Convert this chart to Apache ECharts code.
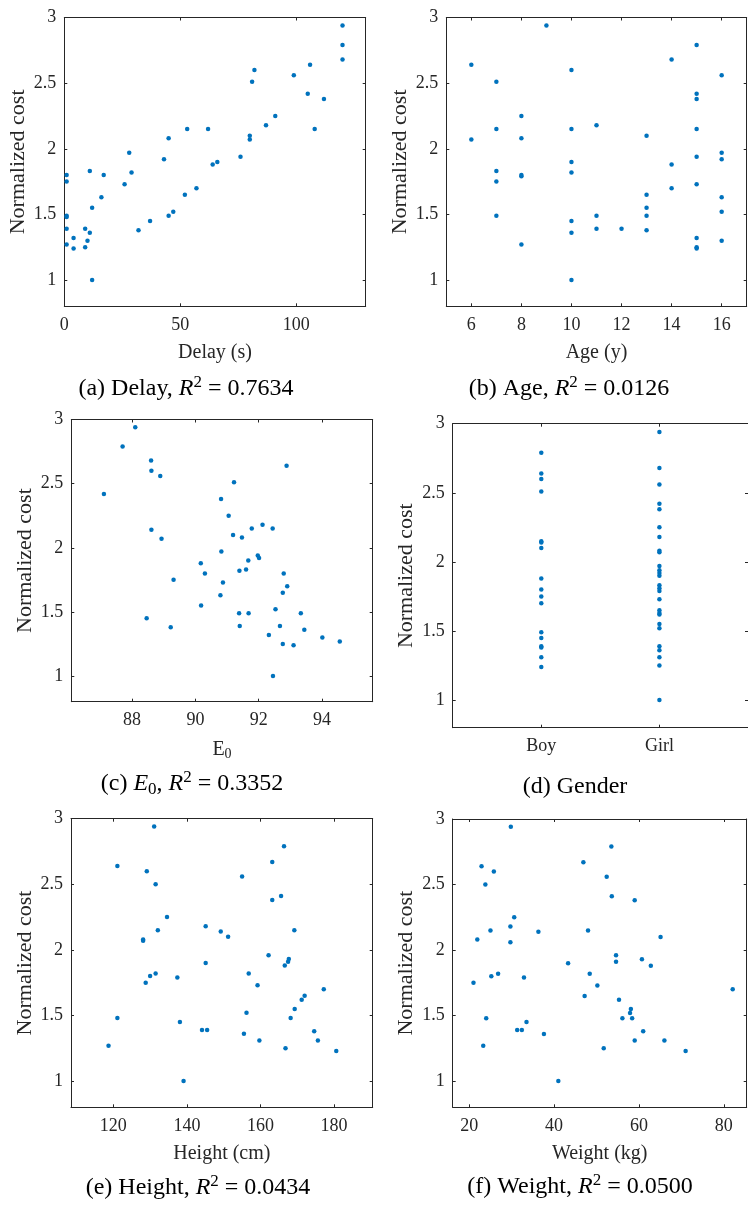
<!DOCTYPE html>
<html><head><meta charset="utf-8">
<script src="https://cdn.jsdelivr.net/npm/echarts@6/dist/echarts.min.js"></script>
<style>html,body{margin:0;padding:0;background:#fff}#c{width:748px;height:1205px}</style>
</head><body><div id="c"></div>
<script>
// ---- tick labels ----
const costTicks = [1, 1.5, 2, 2.5, 3];
const delayTicks = [0, 50, 100];
const ageTicks = [6, 8, 10, 12, 14, 16];
const e0Ticks = [88, 90, 92, 94];
const genderCategories = ['Boy', 'Girl'];
const heightTicks = [120, 140, 160, 180];
const weightTicks = [20, 40, 60, 80];

// ---- series values: [x, normalized cost] ----
const delayData = [[120,2.94],[120,2.79],[120,2.68],[82,2.60],[81,2.51],[99,2.56],[106,2.64],[105,2.42],[112,2.38],[91,2.25],[87,2.18],[108,2.15],[53,2.15],[62,2.15],[45,2.08],[80,2.10],[80,2.07],[28,1.97],[43,1.92],[76,1.94],[66,1.90],[64,1.88],[1,1.80],[1,1.75],[11,1.83],[17,1.80],[29,1.82],[26,1.73],[57,1.70],[52,1.65],[16,1.63],[12,1.55],[47,1.52],[45,1.49],[1,1.49],[1,1.48],[37,1.45],[32,1.38],[1,1.39],[9,1.39],[11,1.36],[4,1.32],[10,1.30],[1,1.27],[4,1.24],[9,1.25],[12,1.00]];
const ageData = [[9,2.94],[6,2.64],[6,2.07],[7,2.51],[7,2.15],[7,1.83],[7,1.75],[7,1.49],[8,2.25],[8,2.08],[8,1.80],[8,1.79],[8,1.27],[10,2.60],[10,2.15],[10,1.90],[10,1.82],[10,1.45],[10,1.36],[10,1.00],[11,2.18],[11,1.49],[11,1.39],[12,1.39],[13,2.10],[13,1.65],[13,1.55],[13,1.49],[13,1.38],[14,2.68],[14,1.88],[14,1.70],[15,2.79],[15,2.42],[15,2.38],[15,2.15],[15,1.94],[15,1.73],[15,1.32],[15,1.25],[15,1.24],[16,2.56],[16,1.97],[16,1.92],[16,1.63],[16,1.52],[16,1.30]];
const e0Data = [[88.10,2.94],[87.70,2.79],[88.60,2.68],[92.88,2.64],[88.61,2.60],[88.89,2.56],[91.22,2.51],[87.11,2.42],[90.81,2.38],[91.05,2.25],[91.78,2.15],[92.12,2.18],[92.44,2.15],[88.61,2.14],[91.19,2.10],[91.47,2.08],[88.93,2.07],[90.82,1.97],[91.97,1.94],[92.01,1.92],[91.67,1.90],[90.17,1.88],[92.79,1.80],[90.30,1.80],[91.39,1.82],[91.60,1.83],[89.31,1.75],[90.87,1.73],[92.90,1.70],[92.76,1.65],[90.79,1.63],[90.18,1.55],[92.53,1.52],[91.38,1.49],[91.68,1.49],[93.33,1.49],[88.46,1.45],[92.67,1.39],[91.40,1.39],[89.22,1.38],[93.44,1.36],[92.32,1.32],[94.01,1.30],[92.76,1.25],[94.56,1.27],[93.10,1.24],[92.45,1.00]];
const boyCost = [2.79,2.64,2.60,2.51,2.15,2.14,2.10,1.88,1.80,1.75,1.70,1.49,1.45,1.39,1.38,1.31,1.24];
const girlCost = [2.94,2.68,2.56,2.42,2.38,2.25,2.18,2.08,2.07,1.97,1.94,1.92,1.90,1.83,1.81,1.79,1.73,1.65,1.63,1.62,1.55,1.52,1.39,1.36,1.31,1.25,1.00];
const heightData = [[131.1,2.94],[166.4,2.79],[163.2,2.67],[121.1,2.64],[129.1,2.60],[155.0,2.56],[131.5,2.50],[165.6,2.41],[163.2,2.38],[134.6,2.25],[145.1,2.18],[132.1,2.15],[149.2,2.14],[169.2,2.15],[151.2,2.10],[128.1,2.08],[128.1,2.07],[162.2,1.96],[167.7,1.93],[167.5,1.91],[145.1,1.90],[166.6,1.88],[131.5,1.82],[130.0,1.80],[137.4,1.79],[156.8,1.82],[128.8,1.75],[159.2,1.73],[177.2,1.70],[172.0,1.65],[171.2,1.62],[169.3,1.55],[156.2,1.52],[168.2,1.48],[121.1,1.48],[138.1,1.45],[144.1,1.39],[145.5,1.39],[155.5,1.36],[174.6,1.38],[159.7,1.31],[175.6,1.31],[118.7,1.27],[166.8,1.25],[180.6,1.23],[139.1,1.00]];
const weightData = [[29.8,2.94],[53.5,2.79],[46.9,2.67],[22.9,2.64],[25.8,2.60],[23.8,2.50],[52.4,2.56],[53.6,2.41],[59.0,2.38],[30.6,2.25],[29.7,2.18],[25.0,2.15],[36.3,2.14],[48.0,2.15],[65.1,2.10],[21.9,2.08],[29.7,2.06],[54.6,1.96],[54.6,1.91],[60.7,1.93],[62.8,1.88],[43.3,1.90],[26.8,1.82],[25.2,1.80],[32.9,1.79],[48.4,1.82],[21.0,1.75],[50.2,1.73],[82.1,1.70],[47.2,1.65],[55.3,1.62],[58.1,1.55],[57.9,1.52],[24.0,1.48],[56.1,1.48],[58.4,1.48],[33.5,1.45],[31.3,1.39],[32.4,1.39],[37.6,1.36],[61.0,1.38],[59.0,1.31],[66.0,1.31],[23.3,1.27],[51.7,1.25],[71.0,1.23],[41.0,1.00]];

// ---- layout / style ----
const FONT = '"Liberation Serif", "Times New Roman", serif';
const AX = '#262626';
const DOT = '#0072BD';
const capRich = {
  n: {fontFamily: FONT, fontSize: 24, color: '#000', lineHeight: 29},
  i: {fontFamily: FONT, fontSize: 24, color: '#000', fontStyle: 'italic', lineHeight: 29},
  sup: {fontFamily: FONT, fontSize: 17, color: '#000', verticalAlign: 'top', lineHeight: 14},
  sub: {fontFamily: FONT, fontSize: 17, color: '#000', verticalAlign: 'bottom', lineHeight: 16}
};

const genderData = boyCost.map(v => [1, v]).concat(girlCost.map(v => [2, v]));

const panels = [
  {grid: {left: 64.3, top: 17.5, width: 301.4, height: 288.8}, xmin: 0, xmax: 130, xticks: delayTicks, xname: 'Delay (s)', data: delayData,
   cap: {x: 186, y: 389, text: '{n|(a) Delay, }{i|R}{sup|2}{n| = 0.7634}'}},
  {grid: {left: 446.3, top: 17.5, width: 300.4, height: 288.8}, xmin: 5, xmax: 17, xticks: ageTicks, xname: 'Age (y)', data: ageData,
   cap: {x: 569, y: 389, text: '{n|(b) Age, }{i|R}{sup|2}{n| = 0.0126}'}},
  {grid: {left: 71.3, top: 419.5, width: 301.4, height: 282.2}, xmin: 86.08, xmax: 95.6, xticks: e0Ticks, xname: '{e|E}{s|0}', data: e0Data,
   cap: {x: 192, y: 784, text: '{n|(c) }{i|E}{sub|0}{n|, }{i|R}{sup|2}{n| = 0.3352}'}},
  {grid: {left: 452.7, top: 423.7, width: 300, height: 304}, xmin: 0.25, xmax: 2.75, xticks: [1, 2], xname: '', data: genderData,
   fmt: v => genderCategories[Math.round(v) - 1], cap: {x: 575, y: 787, text: '{n|(d) Gender}'}},
  {grid: {left: 71, top: 818.7, width: 301.7, height: 288.6}, xmin: 108.5, xmax: 190.5, xticks: heightTicks, xname: 'Height (cm)', data: heightData,
   cap: {x: 198, y: 1188, text: '{n|(e) Height, }{i|R}{sup|2}{n| = 0.0434}'}},
  {grid: {left: 452.7, top: 819, width: 294, height: 288.3}, xmin: 16.1, xmax: 85.4, xticks: weightTicks, xname: 'Weight (kg)', data: weightData,
   cap: {x: 580, y: 1187, text: '{n|(f) Weight, }{i|R}{sup|2}{n| = 0.0500}'}}
];

const option = {animation: false, grid: [], xAxis: [], yAxis: [], series: [], graphic: []};
panels.forEach((p, i) => {
  option.grid.push(Object.assign({show: false}, p.grid));
  const line = {show: true, onZero: false, lineStyle: {color: AX, width: 1}};
  const tickX = {show: true, inside: true, length: 3, customValues: p.xticks, lineStyle: {color: AX, width: 1}};
  const tickY = {show: true, inside: true, length: 3, customValues: costTicks, lineStyle: {color: AX, width: 1}};
  const xBase = {type: 'value', gridIndex: i, min: p.xmin, max: p.xmax, splitLine: {show: false}, axisLine: line, axisTick: tickX};
  const yBase = {type: 'value', gridIndex: i, min: 0.8, max: 3, splitLine: {show: false}, axisLine: line, axisTick: tickY};
  option.xAxis.push(Object.assign({}, xBase, {
    position: 'bottom',
    axisLabel: {customValues: p.xticks, fontFamily: FONT, fontSize: 18, color: AX, margin: 10, formatter: p.fmt || (v => String(v))},
    name: p.xname, nameLocation: 'middle', nameGap: 36,
    nameTextStyle: {fontFamily: FONT, fontSize: 20, color: AX,
      rich: {e: {fontFamily: FONT, fontSize: 20, color: AX, lineHeight: 24}, s: {fontFamily: FONT, fontSize: 14, color: AX, verticalAlign: 'bottom', lineHeight: 12}}}
  }));
  option.xAxis.push(Object.assign({}, xBase, {position: 'top', axisLabel: {show: false}}));
  option.yAxis.push(Object.assign({}, yBase, {
    position: 'left',
    axisLabel: {customValues: costTicks, fontFamily: FONT, fontSize: 18, color: AX, margin: 8},
    name: 'Normalized cost', nameLocation: 'middle', nameGap: 35,
    nameTextStyle: {fontFamily: FONT, fontSize: 22, color: AX}
  }));
  option.yAxis.push(Object.assign({}, yBase, {position: 'right', axisLabel: {show: false}}));
  option.series.push({type: 'scatter', xAxisIndex: 2 * i, yAxisIndex: 2 * i, data: p.data, symbolSize: 4.5, silent: true,
    itemStyle: {color: DOT, opacity: 1}});
  option.graphic.push({type: 'text', x: p.cap.x, y: p.cap.y, silent: true,
    style: {text: p.cap.text, rich: capRich, align: 'center', verticalAlign: 'middle', fontFamily: FONT, fontSize: 24}});
});

const chart = echarts.init(document.getElementById('c'), null, {renderer: 'canvas'});
chart.setOption(option);
</script>
</body></html>
